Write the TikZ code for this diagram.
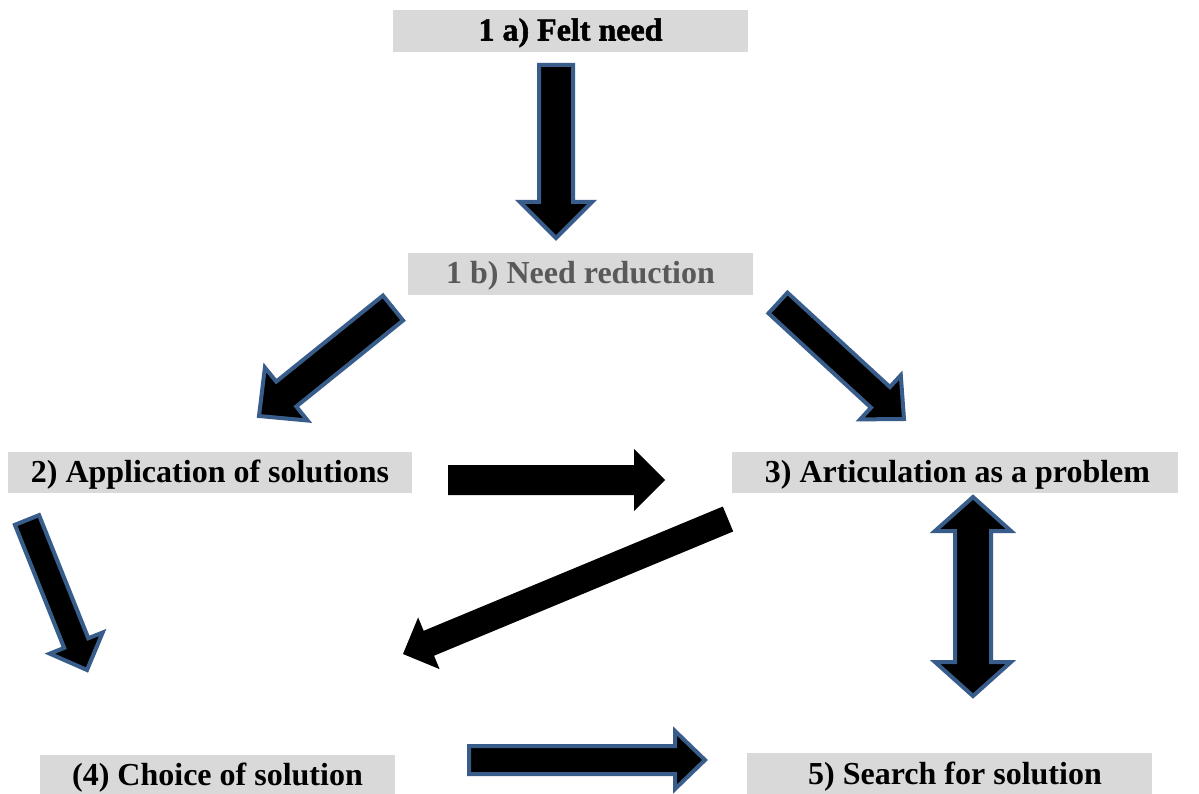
\documentclass[tikz,border=0pt]{standalone}
\usepackage{fontspec}
\setmainfont{Liberation Serif}
\newfontfamily\feltfont{Liberation Serif}[BoldFeatures={FakeBold=1.6}]
\usetikzlibrary{calc}
\definecolor{boxgray}{HTML}{D9D9D9}
\definecolor{arrowblue}{HTML}{385D8A}
\definecolor{txtgray}{HTML}{595959}
% single block arrow: #1 name, #2 start, #3 tip, #4 shaft half width, #5 head half width, #6 head length, #7 style
\newcommand\blkarrow[7]{%
  \coordinate (#1n) at ($(#3)!#6pt!(#2)$);
  \path[#7] ($(#2)!#4pt!90:(#3)$) -- ($(#1n)!#4pt!90:(#3)$) -- ($(#1n)!#5pt!90:(#3)$) -- (#3)
    -- ($(#1n)!#5pt!-90:(#3)$) -- ($(#1n)!#4pt!-90:(#3)$) -- ($(#2)!#4pt!-90:(#3)$) -- cycle;}
% double block arrow
\newcommand\dblarrow[7]{%
  \coordinate (#1a) at ($(#2)!#6pt!(#3)$);
  \coordinate (#1b) at ($(#3)!#6pt!(#2)$);
  \path[#7] (#2) -- ($(#1a)!#5pt!90:(#3)$) -- ($(#1a)!#4pt!90:(#3)$) -- ($(#1b)!#4pt!90:(#3)$)
    -- ($(#1b)!#5pt!90:(#3)$) -- (#3) -- ($(#1b)!#5pt!-90:(#3)$) -- ($(#1b)!#4pt!-90:(#3)$)
    -- ($(#1a)!#4pt!-90:(#3)$) -- ($(#1a)!#5pt!-90:(#3)$) -- cycle;}
\begin{document}
\begin{tikzpicture}[x=1pt,y=-1pt,
  box/.style={fill=boxgray, inner sep=0pt, text height=25pt, text depth=6pt,
    font=\fontsize{32}{38}\selectfont\bfseries},
  bluearrow/.style={fill=black, draw=arrowblue, line width=4pt, line join=miter, miter limit=10},
  plainarrow/.style={fill=black}]
\useasboundingbox (0,0) rectangle (1199,794);
\fill[white] (0,0) rectangle (1199,794);

\node[box, minimum width=355pt, minimum height=42pt] (n1a) at (570.5,31) {\feltfont\bfseries 1 a) Felt need};
\node[box, text=txtgray, minimum width=345pt, minimum height=42pt] (n1b) at (580.5,274) {1 b) Need reduction};
\node[box, minimum width=404pt, minimum height=41pt] (n2) at (210,472.5) {2) Application of solutions};
\node[box, minimum width=446pt, minimum height=41pt] (n3) at (955,472.5) {\hspace*{5pt}3) Articulation as a problem};
\node[box, minimum width=355pt, minimum height=42pt] (n4) at (217.5,776) {(4) Choice of solution};
\node[box, minimum width=405pt, minimum height=44pt] (n5) at (949.5,775) {\hspace*{11pt}5) Search for solution};

\coordinate (aS) at (556,65);   \coordinate (aE) at (556,238);
\coordinate (bS) at (393,308);  \coordinate (bE) at (259,416);
\coordinate (cS) at (778,303);  \coordinate (cE) at (904,419);
\coordinate (dS) at (448,480);  \coordinate (dE) at (665,480);
\coordinate (eS) at (728,519);  \coordinate (eE) at (403,654);
\coordinate (fS) at (973,497);  \coordinate (fE) at (973,696);
\coordinate (gS) at (27,520);   \coordinate (gE) at (87,670);
\coordinate (hS) at (469,760);  \coordinate (hE) at (705,760);

\blkarrow{a}{aS}{aE}{17}{36}{36}{bluearrow}
\blkarrow{b}{bS}{bE}{16}{34}{35}{bluearrow}
\blkarrow{c}{cS}{cE}{14}{30}{32}{bluearrow}
\blkarrow{d}{dS}{dE}{15}{31}{31}{plainarrow}
\blkarrow{e}{eS}{eE}{13.5}{28}{28}{plainarrow}
\dblarrow{f}{fS}{fE}{18}{38}{34}{bluearrow}
\blkarrow{g}{gS}{gE}{13}{28.5}{29}{bluearrow}
\blkarrow{h}{hS}{hE}{14}{29}{30}{bluearrow}
\end{tikzpicture}
\end{document}
